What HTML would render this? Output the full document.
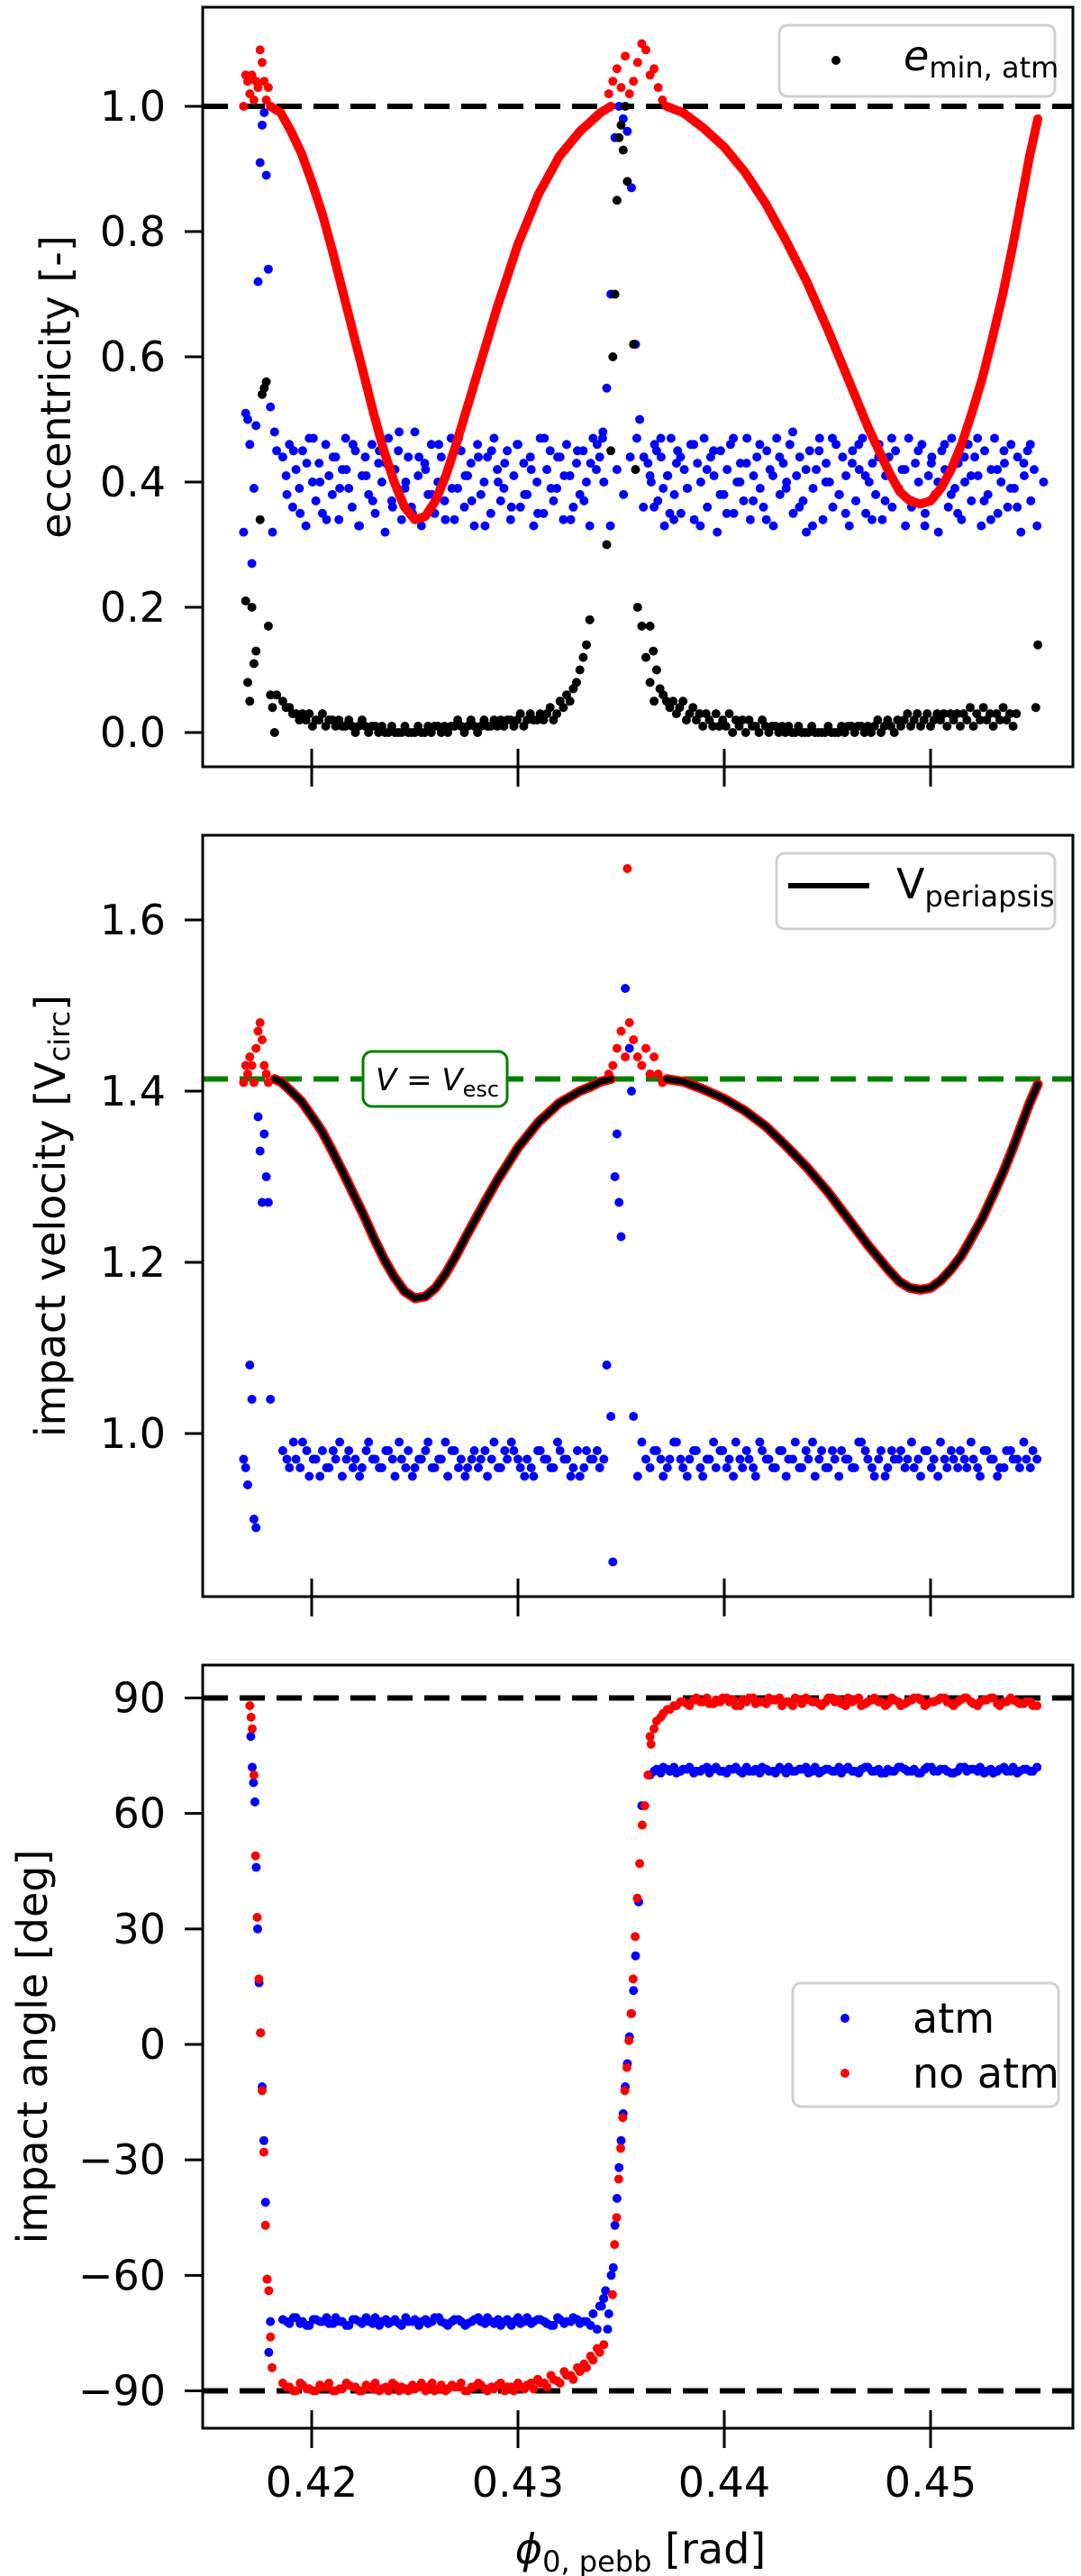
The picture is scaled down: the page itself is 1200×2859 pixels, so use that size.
<!DOCTYPE html>
<html><head><meta charset="utf-8"><style>
html,body{margin:0;padding:0;background:#fff}
svg{display:block}
text{font-family:"DejaVu Sans","Liberation Sans",sans-serif;fill:#000}
</style></head><body>
<svg id="fig" xmlns="http://www.w3.org/2000/svg" width="1200" height="2859" viewBox="0 0 1200 2859"></svg>
<script>
// ---------- data ----------
const xTicks = [0.42, 0.43, 0.44, 0.45];
const xTickLabels = ["0.42", "0.43", "0.44", "0.45"];
const eccTicks = [0.0, 0.2, 0.4, 0.6, 0.8, 1.0];
const eccTickLabels = ["0.0", "0.2", "0.4", "0.6", "0.8", "1.0"];
const velTicks = [1.0, 1.2, 1.4, 1.6];
const velTickLabels = ["1.0", "1.2", "1.4", "1.6"];
const angTicks = [-90, -60, -30, 0, 30, 60, 90];
const angTickLabels = ["\u221290", "\u221260", "\u221230", "0", "30", "60", "90"];

// sampling grids (phi values) for the dense bands
const gridL = {start: 0.4186, step: 0.00016};
const gridR = {start: 0.4363, step: 0.00016};
const gridL2 = {start: 0.4186, step: 0.00032};
const gridR2 = {start: 0.4364, step: 0.00032};
const gridL2b = {start: 0.4188, step: 0.00032};
const gridR2b = {start: 0.4366, step: 0.00032};
const gridBlkL = {start: 0.4186, step: 0.00016};
const gridBlkR = {start: 0.4364, step: 0.00016};

// panel 1: no-atm eccentricity (red curve)
const redEccX = [0.4180,0.4185,0.419,0.4195,0.420,0.4205,0.421,0.4215,0.422,0.4225,0.423,0.4235,0.424,0.4245,0.425,0.4255,0.426,0.4265,0.427,0.4275,0.428,0.4285,0.429,0.4295,0.430,0.4305,0.431,0.4315,0.432,0.4325,0.433,0.4335,0.434,0.4345];
const redEccY = [1.00,0.99,0.96,0.925,0.88,0.83,0.77,0.705,0.64,0.575,0.51,0.45,0.40,0.36,0.34,0.345,0.37,0.41,0.46,0.515,0.57,0.625,0.68,0.73,0.78,0.82,0.86,0.89,0.92,0.94,0.96,0.975,0.99,1.00];
const redEccX2 = [0.4372,0.438,0.439,0.440,0.441,0.442,0.443,0.444,0.445,0.446,0.447,0.448,0.4485,0.449,0.4495,0.450,0.4505,0.451,0.4515,0.452,0.4525,0.453,0.4535,0.454,0.4544,0.4548,0.4552];
const redEccY2 = [1.00,0.99,0.965,0.935,0.895,0.845,0.785,0.72,0.645,0.565,0.485,0.415,0.385,0.37,0.365,0.37,0.39,0.42,0.46,0.51,0.565,0.63,0.70,0.78,0.85,0.92,0.98];
const redEccSpX = [0.4167,0.4168,0.4169,0.4170,0.4171,0.4172,0.4173,0.4174,0.4175,0.4176,0.4177,0.4178,0.4179,0.4344,0.4346,0.4348,0.4350,0.4352,0.4354,0.4356,0.4358,0.4360,0.4362,0.4364,0.4366,0.4368,0.4370];
const redEccSpY = [1.00,1.05,1.04,1.02,1.05,1.01,1.04,1.03,1.09,1.07,1.04,1.01,1.03,1.02,1.04,1.06,1.03,1.08,1.02,1.04,1.07,1.10,1.09,1.05,1.06,1.03,1.01];

// panel 1: atm eccentricity (blue)
const blueEccL = [0.44,0.41,0.46,0.36,0.42,0.39,0.45,0.33,0.47,0.40,0.37,0.43,0.35,0.46,0.41,0.38,0.44,0.34,0.42,0.47,0.39,0.36,0.45,0.33,0.41,0.44,0.38,0.46,0.35,0.43,0.40,0.32,0.47,0.37,0.42,0.45,0.34,0.39,0.44,0.36,0.48,0.41,0.33,0.43,0.38,0.46,0.35,0.40,0.44,0.37,0.42,0.47,0.34,0.39,0.45,0.36,0.41,0.43,0.33,0.46,0.38,0.40,0.44,0.35,0.47,0.42,0.37,0.39,0.45,0.34,0.41,0.46,0.36,0.43,0.38,0.44,0.33,0.40,0.47,0.35,0.42,0.45,0.37,0.39,0.44,0.34,0.46,0.41,0.36,0.43,0.38,0.45,0.40,0.33,0.47,0.42,0.44,0.48];
const blueEccL2 = [0.38,0.45,0.35,0.43,0.47,0.40,0.34,0.44,0.39,0.42,0.46,0.33,0.41,0.37,0.45,0.43,0.36,0.48,0.40,0.35,0.44,0.42,0.38,0.46,0.34,0.39,0.47,0.41,0.37,0.44,0.33,0.45,0.40,0.43,0.36,0.46,0.38,0.42,0.35,0.47,0.39,0.44,0.41,0.34,0.45,0.37,0.43,0.46,0.40,0.33,0.42,0.38,0.44,0.47,0.36,0.41,0.45,0.39,0.35,0.43];
const blueEccR = [0.43,0.40,0.46,0.37,0.44,0.33,0.41,0.47,0.38,0.45,0.35,0.42,0.39,0.46,0.34,0.43,0.40,0.47,0.36,0.44,0.41,0.32,0.45,0.38,0.42,0.46,0.35,0.40,0.43,0.37,0.47,0.34,0.41,0.44,0.39,0.36,0.45,0.42,0.33,0.47,0.38,0.43,0.40,0.46,0.35,0.41,0.44,0.37,0.32,0.45,0.39,0.42,0.47,0.34,0.43,0.40,0.36,0.46,0.38,0.44,0.41,0.33,0.45,0.37,0.42,0.47,0.35,0.40,0.43,0.38,0.46,0.34,0.41,0.44,0.36,0.45,0.39,0.42,0.33,0.47,0.37,0.43,0.40,0.46,0.35,0.41,0.44,0.38,0.32,0.45,0.42,0.36,0.47,0.39,0.43,0.34,0.40,0.46,0.37,0.44,0.41,0.33,0.45,0.38,0.42,0.47,0.35,0.40,0.43,0.36,0.46,0.39,0.44,0.32,0.41,0.45,0.37,0.42];
const blueEccR2 = [0.36,0.47,0.41,0.34,0.44,0.39,0.46,0.33,0.42,0.45,0.38,0.35,0.47,0.40,0.43,0.37,0.46,0.34,0.41,0.44,0.39,0.48,0.36,0.42,0.33,0.45,0.40,0.47,0.38,0.35,0.43,0.46,0.41,0.34,0.44,0.37,0.47,0.39,0.42,0.36,0.45,0.33,0.43,0.40,0.46,0.38,0.35,0.44,0.41,0.47,0.37,0.34,0.42,0.45,0.39,0.36,0.43,0.46,0.33,0.40];
const blueEccSpX = [0.4167,0.4168,0.4169,0.4170,0.4171,0.4172,0.4173,0.4174,0.4175,0.4176,0.4177,0.4178,0.4179,0.4180,0.4181,0.4182,0.4183,0.4341,0.4343,0.4345,0.4347,0.4349,0.4351,0.4353,0.4355,0.4357,0.4359,0.4361];
const blueEccSpY = [0.32,0.51,0.50,0.46,0.27,0.39,0.49,0.72,0.91,0.97,0.99,0.89,0.74,0.52,0.32,0.48,0.45,0.47,0.55,0.70,0.95,1.00,0.98,0.96,0.87,0.62,0.50,0.44];

// panel 1: e_min,atm (black)
const blkEccL = [0.05,0.04,0.04,0.03,0.03,0.02,0.03,0.02,0.03,0.01,0.02,0.02,0.03,0.01,0.02,0.02,0.01,0.02,0.01,0.01,0.02,0.01,0.00,0.01,0.02,0.01,0.00,0.01,0.01,0.00,0.01,0.00,0.00,0.01,0.00,0.00,0.00,0.01,0.00,0.00,0.00,0.01,0.00,0.00,0.01,0.00,0.01,0.01,0.00,0.01,0.00,0.01,0.01,0.02,0.01,0.00,0.01,0.02,0.01,0.00,0.01,0.02,0.01,0.01,0.02,0.01,0.02,0.01,0.02,0.02,0.01,0.02,0.03,0.01,0.02,0.03,0.02,0.02,0.03,0.02,0.03,0.04,0.02,0.03,0.05,0.04,0.06,0.05,0.07,0.08,0.10,0.12,0.14,0.18];
const blkEccR = [0.17,0.13,0.10,0.07,0.06,0.05,0.04,0.05,0.03,0.04,0.05,0.02,0.03,0.04,0.02,0.03,0.01,0.03,0.02,0.01,0.03,0.01,0.02,0.01,0.03,0.00,0.02,0.01,0.02,0.00,0.02,0.01,0.01,0.00,0.02,0.01,0.00,0.01,0.01,0.00,0.01,0.00,0.01,0.00,0.00,0.01,0.00,0.00,0.00,0.01,0.00,0.00,0.00,0.00,0.01,0.00,0.00,0.00,0.01,0.00,0.01,0.01,0.00,0.01,0.01,0.00,0.01,0.00,0.01,0.02,0.00,0.01,0.02,0.01,0.00,0.02,0.01,0.02,0.03,0.01,0.02,0.03,0.01,0.02,0.03,0.01,0.02,0.03,0.02,0.03,0.01,0.03,0.02,0.03,0.01,0.03,0.02,0.04,0.01,0.03,0.02,0.04,0.02,0.03,0.01,0.03,0.02,0.04,0.02,0.03,0.01,0.03];
const blkEccSpX = [0.4168,0.4169,0.4170,0.4171,0.4172,0.4173,0.4175,0.4176,0.4177,0.4178,0.4179,0.4180,0.4181,0.4182,0.4183,0.4343,0.4345,0.4346,0.4347,0.4348,0.4349,0.4350,0.4351,0.4352,0.4353,0.4356,0.4357,0.4358,0.4360,0.4362,0.4364,0.4366,0.4551,0.4552];
const blkEccSpY = [0.21,0.08,0.05,0.20,0.11,0.13,0.34,0.54,0.55,0.56,0.17,0.06,0.04,0.00,0.06,0.30,0.45,0.60,0.70,0.85,0.95,0.97,0.93,1.00,0.88,0.62,0.42,0.20,0.17,0.12,0.08,0.05,0.04,0.14];

// panel 2: impact velocity
const velLineX = [0.4182,0.4185,0.419,0.4195,0.420,0.4205,0.421,0.4215,0.422,0.4225,0.423,0.4235,0.424,0.4245,0.425,0.4255,0.426,0.4265,0.427,0.4275,0.428,0.4285,0.429,0.4295,0.430,0.4305,0.431,0.4315,0.432,0.4325,0.433,0.4335,0.434,0.4345];
const velLineY = [1.414,1.411,1.400,1.388,1.371,1.353,1.330,1.306,1.281,1.256,1.229,1.204,1.183,1.166,1.158,1.160,1.170,1.187,1.208,1.231,1.253,1.275,1.296,1.315,1.334,1.349,1.364,1.375,1.386,1.393,1.400,1.405,1.411,1.414];
const velLineX2 = [0.4372,0.438,0.439,0.440,0.441,0.442,0.443,0.444,0.445,0.446,0.447,0.448,0.4485,0.449,0.4495,0.450,0.4505,0.451,0.4515,0.452,0.4525,0.453,0.4535,0.454,0.4544,0.4548,0.4552];
const velLineY2 = [1.414,1.411,1.402,1.391,1.377,1.359,1.336,1.311,1.283,1.251,1.219,1.190,1.177,1.170,1.168,1.170,1.179,1.192,1.208,1.229,1.251,1.277,1.304,1.334,1.360,1.386,1.408];
const redVelSpX = [0.4167,0.4168,0.4169,0.4170,0.4171,0.4172,0.4173,0.4174,0.4175,0.4176,0.4177,0.4178,0.4179,0.4344,0.4346,0.4348,0.4350,0.4352,0.4353,0.4354,0.4356,0.4358,0.4360,0.4362,0.4364,0.4366,0.4368,0.4370];
const redVelSpY = [1.41,1.43,1.42,1.44,1.43,1.41,1.45,1.47,1.48,1.46,1.43,1.42,1.41,1.42,1.43,1.45,1.47,1.44,1.66,1.48,1.46,1.44,1.43,1.45,1.42,1.44,1.42,1.41];
const blueVelL = [0.98,0.96,0.97,0.99,0.95,0.97,0.98,0.96,0.97,0.95,0.98,0.97,0.96,0.99,0.97,0.96,0.98,0.95,0.97,0.98,0.96,0.97,0.99,0.96,0.97,0.95,0.98,0.97,0.96,0.98,0.97,0.95,0.99,0.96,0.97,0.98,0.96,0.97,0.95,0.98,0.97,0.96,0.98,0.97,0.96,0.95,0.98,0.97,0.96];
const blueVelL2 = [0.97,0.99,0.96,0.98,0.97,0.95,0.96,0.98,0.99,0.97,0.96,0.95,0.98,0.97,0.96,0.98,0.97,0.99,0.96,0.95,0.97,0.98,0.96,0.97,0.99,0.98,0.96,0.95,0.97,0.96,0.98,0.97,0.96,0.98,0.99,0.97,0.95,0.96,0.98,0.97,0.96,0.99,0.97,0.95,0.98,0.96,0.97,0.98,0.97];
const blueVelR = [0.96,0.98,0.95,0.97,0.99,0.96,0.97,0.98,0.95,0.97,0.96,0.98,0.97,0.99,0.96,0.97,0.95,0.98,0.97,0.96,0.98,0.97,0.99,0.96,0.97,0.95,0.98,0.96,0.97,0.98,0.97,0.96,0.99,0.97,0.95,0.98,0.96,0.97,0.98,0.97,0.96,0.95,0.98,0.97,0.99,0.96,0.97,0.98,0.96,0.97,0.95,0.98,0.97,0.96,0.98,0.97,0.96,0.97,0.98];
const blueVelR2 = [0.98,0.97,0.96,0.99,0.97,0.95,0.98,0.96,0.97,0.99,0.98,0.96,0.95,0.97,0.98,0.96,0.99,0.97,0.96,0.98,0.95,0.97,0.96,0.98,0.99,0.97,0.96,0.98,0.95,0.97,0.96,0.99,0.98,0.96,0.97,0.95,0.98,0.97,0.96,0.99,0.97,0.98,0.96,0.95,0.97,0.98,0.96,0.97,0.99,0.96,0.98,0.97,0.95,0.96,0.98,0.97,0.99,0.96,0.97];
const blueVelSpX = [0.4167,0.4168,0.4169,0.4170,0.4171,0.4172,0.4173,0.4174,0.4175,0.4176,0.4177,0.4178,0.4179,0.4180,0.4343,0.4345,0.4346,0.4347,0.4348,0.4349,0.4350,0.4352,0.4354,0.4355,0.4356,0.4358,0.4360,0.4362];
const blueVelSpY = [0.97,0.96,0.94,1.08,1.04,0.90,0.89,1.37,1.33,1.27,1.35,1.30,1.27,1.04,1.08,1.02,0.85,1.30,1.35,1.27,1.23,1.52,1.45,1.40,1.02,0.95,0.99,0.97];

// panel 3: impact angle
const blueAngL = [-71.5,-72.5,-71,-72,-73,-71.5,-72,-72.5,-71,-72,-73,-71.5,-72.5,-72,-71,-72,-72.5,-71.5,-73,-72,-71.5,-72,-72.5,-71,-72,-73,-71.5,-72,-72.5,-71.5,-72,-71,-72.5,-73,-71.5,-72,-72.5,-71,-72,-71.5,-72.5,-73,-71.5,-72,-71,-72.5,-72,-70,-68];
const blueAngL2 = [-72,-71,-72.5,-73,-71.5,-72,-71,-72.5,-72,-73,-71.5,-72,-71,-72.5,-73,-71.5,-72,-72.5,-71,-72,-73,-71.5,-72,-71,-72.5,-72,-71.5,-73,-72,-71,-72.5,-72,-71.5,-72,-73,-71,-72,-72.5,-71.5,-72,-73,-71,-72.5,-72,-71.5,-72,-73,-74,-66];
const blueAngR = [70,71.5,72,71,70.5,71.5,72,71,71.5,70.5,72,71,71.5,72,70.5,71,71.5,72,71,70.5,71.5,72,71,71.5,70.5,72,71,71.5,71,70.5,72,71,71.5,72,71,70.5,71.5,71,72,71,71.5,70.5,72,71,71.5,71,70.5,72,71,71.5,72,71,70.5,71.5,71,72,71,71.5,71];
const blueAngR2 = [71,70.5,71.5,72,71,71.5,70.5,71,72,71.5,71,70.5,71.5,71,72,71,70.5,71.5,71,72,70.5,71,71.5,72,71,70.5,71.5,71,72,71.5,71,70.5,72,71,71.5,70.5,71,72,71.5,71,70.5,71.5,72,71,71.5,70.5,71,72,71.5,71,70.5,71.5,71,72,71,70.5,71.5,71,72];
const redAngL = [-88,-89,-90,-88.5,-89.5,-90,-89,-88,-90,-89.5,-88.5,-89,-90,-89,-88,-89.5,-90,-88.5,-89,-90,-89.5,-88,-89,-90,-88.5,-89.5,-89,-88,-90,-89,-88.5,-90,-89.5,-88,-89,-90,-89,-88.5,-89.5,-88,-89,-87,-88,-86,-87,-85,-84,-82,-80];
const redAngL2 = [-89,-90,-88,-89.5,-90,-88.5,-89,-90,-89.5,-88,-89,-90,-88.5,-89.5,-90,-89,-88,-90,-89.5,-88.5,-89,-90,-88,-89.5,-90,-88.5,-89,-90,-89,-88,-89.5,-89,-88.5,-90,-89,-88,-89.5,-88,-87,-88,-86,-87.5,-85,-86,-84,-83,-81,-79,-78];
const redAngR = [80,84,86,87,88,89,88,90,89,88.5,89.5,90,89,88,89.5,90,88.5,89,90,89.5,88,89,90,88.5,89.5,89,88,90,89,88.5,90,89.5,88,89,90,89,88.5,89.5,88,89,90,89.5,88.5,89,90,89,88,89.5,90,88.5,89,89.5,90,88,89,89.5,88.5,89,88];
const redAngR2 = [82,85,87,88,89,88.5,89.5,89,90,88.5,89,90,89.5,88,89,90,89,88.5,89.5,90,89,88,89.5,90,89,88.5,89,90,89.5,88,89,90,88.5,89.5,89,88,90,89,88.5,89.5,90,88,89,89.5,90,88.5,89,90,89,88,89.5,90,88.5,89,90,89,88.5,89,88];
const blueAngSpX = [0.41705,0.41712,0.41718,0.41725,0.41731,0.41738,0.41745,0.41752,0.41760,0.41768,0.41776,0.41784,0.41792,0.41800,0.43405,0.43415,0.43425,0.43435,0.43440,0.43452,0.43462,0.43470,0.43480,0.43490,0.43500,0.43510,0.43520,0.43530,0.43540,0.43550,0.43560,0.43570,0.43585,0.43600];
const blueAngSpY = [80,72,68,63,46,30,16,3,-11,-25,-41,-61,-80,-72,-68,-66,-64,-74,-70,-60,-58,-47,-40,-32,-25,-18,-11,-5,2,8,14,23,37,62];
const redAngSpX = [0.41700,0.41706,0.41712,0.41720,0.41728,0.41736,0.41744,0.41752,0.41760,0.41768,0.41776,0.41784,0.41792,0.41800,0.41808,0.43458,0.43468,0.43478,0.43488,0.43498,0.43508,0.43518,0.43528,0.43538,0.43548,0.43558,0.43568,0.43578,0.43590,0.43602,0.43615,0.43630,0.43645];
const redAngSpY = [88,85,82,70,49,33,17,3,-12,-28,-47,-61,-64,-76,-84,-65,-52,-45,-35,-27,-19,-12,-6,1,8,17,28,38,47,57,62,70,78];

// ---------- layout ----------
const X0 = 346, XK = 22900;
const AX_L = 225, AX_R = 1191;
const P1 = {top: 8, bot: 851, y: v => 813 - v * 695};
const P2 = {top: 927, bot: 1772, y: v => 1211 - (v - 1.4) * 950};
const P3 = {top: 1848, bot: 2695, y: v => 2269 - v * 4.272};
const xs = v => X0 + (v - 0.42) * XK;

const svg = document.getElementById('fig');
const NS = 'http://www.w3.org/2000/svg';
function mk(tag, attrs, parent) {
  const e = document.createElementNS(NS, tag);
  for (const k in attrs) e.setAttribute(k, attrs[k]);
  (parent || svg).appendChild(e);
  return e;
}
function gridX(g, n) { const a = []; for (let i = 0; i < n; i++) a.push(g.start + i * g.step); return a; }

function dots(P, X, Y, color, name, r) {
  const g = mk('g', {fill: color});
  
  
  for (let i = 0; i < X.length; i++) {
    const c = mk('circle', {cx: xs(X[i]).toFixed(1), cy: P.y(Y[i]).toFixed(1), r: r || 5}, g);
    
    
  }
}
function line(P, X, Y, color, w, name) {
  let d = '';
  for (let i = 0; i < X.length; i++) d += (i ? 'L' : 'M') + xs(X[i]).toFixed(1) + ' ' + P.y(Y[i]).toFixed(1);
  const p = mk('path', {d: d, fill: 'none', stroke: color, 'stroke-width': w, 'stroke-linejoin': 'round', 'stroke-linecap': 'round'});
  
  
}
function hdash(P, v, color, name) {
  const l = mk('line', {x1: AX_L, x2: AX_R, y1: P.y(v), y2: P.y(v), stroke: color, 'stroke-width': 6, 'stroke-dasharray': '28 13'});
  
  
}
function axes(P, ticks, labels, name, ylabel, ylx, showX) {
  const g = mk('g', {});
  
  
  const fr = mk('rect', {x: AX_L, y: P.top, width: AX_R - AX_L, height: P.bot - P.top, fill: 'none', stroke: '#000', 'stroke-width': 3}, g);
  
  
  ticks.forEach((t, i) => {
    const y = P.y(t);
    const tk = mk('line', {x1: AX_L - 20, x2: AX_L, y1: y, y2: y, stroke: '#000', 'stroke-width': 3}, g);
    
    
    const tx = mk('text', {x: 184, y: y + 16, 'text-anchor': 'end', 'font-size': 46}, g);
    tx.textContent = labels[i];
    
    
  });
  xTicks.forEach((t, i) => {
    const x = xs(t);
    const tk = mk('line', {x1: x, x2: x, y1: P.bot - 20, y2: P.bot + 22, stroke: '#000', 'stroke-width': 3}, g);
    
    
    if (showX) {
      const tx = mk('text', {x: x, y: P.bot + 76, 'text-anchor': 'middle', 'font-size': 46}, g);
      tx.textContent = xTickLabels[i];
      
      
    }
  });
  const cy = (P.top + P.bot) / 2;
  const yl = mk('text', {x: ylx, y: cy, 'text-anchor': 'middle', 'font-size': 46, transform: 'rotate(-90 ' + ylx + ' ' + cy + ')', 'dominant-baseline': 'central'}, g);
  yl.innerHTML = ylabel;
  
  
}

// ---------- panel 1 ----------
hdash(P1, 1.0, '#000', 'ecc-unity-line');
dots(P1, gridX(gridL, blueEccL.length), blueEccL, '#0000ff', 'atm-ecc-band-left');
dots(P1, gridX(gridL2b, blueEccL2.length), blueEccL2, '#0000ff', 'atm-ecc-band-left-2');
dots(P1, gridX(gridR, blueEccR.length), blueEccR, '#0000ff', 'atm-ecc-band-right');
dots(P1, gridX(gridR2b, blueEccR2.length), blueEccR2, '#0000ff', 'atm-ecc-band-right-2');
dots(P1, blueEccSpX, blueEccSpY, '#0000ff', 'atm-ecc-spikes');
line(P1, redEccX, redEccY, '#ff0000', 10, 'noatm-ecc-curve-left');
line(P1, redEccX2, redEccY2, '#ff0000', 10, 'noatm-ecc-curve-right');
dots(P1, redEccSpX, redEccSpY, '#ff0000', 'noatm-ecc-scatter');
dots(P1, gridX(gridBlkL, blkEccL.length), blkEccL, '#000', 'emin-atm-left');
dots(P1, gridX(gridBlkR, blkEccR.length), blkEccR, '#000', 'emin-atm-right');
dots(P1, blkEccSpX, blkEccSpY, '#000', 'emin-atm-spikes');
axes(P1, eccTicks, eccTickLabels, 'ecc', 'eccentricity [-]', 62, false);

// ---------- panel 2 ----------
hdash(P2, 1.4142, '#008000', 'escape-velocity-line');
dots(P2, gridX(gridL2, blueVelL.length), blueVelL, '#0000ff', 'atm-vel-band-left');
dots(P2, gridX(gridL2b, blueVelL2.length), blueVelL2, '#0000ff', 'atm-vel-band-left-2');
dots(P2, gridX(gridR2, blueVelR.length), blueVelR, '#0000ff', 'atm-vel-band-right');
dots(P2, gridX(gridR2b, blueVelR2.length), blueVelR2, '#0000ff', 'atm-vel-band-right-2');
dots(P2, blueVelSpX, blueVelSpY, '#0000ff', 'atm-vel-spikes');
dots(P2, redVelSpX, redVelSpY, '#ff0000', 'noatm-vel-scatter');
line(P2, velLineX, velLineY, '#ff0000', 11, 'noatm-vel-curve-left');
line(P2, velLineX2, velLineY2, '#ff0000', 11, 'noatm-vel-curve-right');
line(P2, velLineX, velLineY, '#000', 7, 'v-periapsis-left');
line(P2, velLineX2, velLineY2, '#000', 7, 'v-periapsis-right');
axes(P2, velTicks, velTickLabels, 'vel', 'impact velocity [V<tspan font-size="32" dy="10">circ</tspan><tspan dy="-10">]</tspan>', 56, false);

// ---------- panel 3 ----------
hdash(P3, 90, '#000', 'plus-90-line');
hdash(P3, -90, '#000', 'minus-90-line');
dots(P3, gridX(gridL2, redAngL.length), redAngL, '#ff0000', 'noatm-angle-left');
dots(P3, gridX(gridL2b, redAngL2.length), redAngL2, '#ff0000', 'noatm-angle-left-2');
dots(P3, gridX(gridR2, redAngR.length), redAngR, '#ff0000', 'noatm-angle-right');
dots(P3, gridX(gridR2b, redAngR2.length), redAngR2, '#ff0000', 'noatm-angle-right-2');
dots(P3, gridX(gridL2, blueAngL.length), blueAngL, '#0000ff', 'atm-angle-left');
dots(P3, gridX(gridL2b, blueAngL2.length), blueAngL2, '#0000ff', 'atm-angle-left-2');
dots(P3, gridX(gridR2, blueAngR.length), blueAngR, '#0000ff', 'atm-angle-right');
dots(P3, gridX(gridR2b, blueAngR2.length), blueAngR2, '#0000ff', 'atm-angle-right-2');
dots(P3, blueAngSpX, blueAngSpY, '#0000ff', 'atm-angle-transition');
dots(P3, redAngSpX, redAngSpY, '#ff0000', 'noatm-angle-transition');
axes(P3, angTicks, angTickLabels, 'angle', 'impact angle [deg]', 36, true);
</script>
<svg style="position:absolute;left:0;top:0" width="1200" height="2859">
  <g>
    <rect x="865" y="28" width="306" height="79" rx="9" fill="#fff" fill-opacity="0.8" stroke="#d0d0d0" stroke-width="3"/>
    <circle cx="928" cy="67" r="5" fill="#000"/>
    <text x="1003" y="78" font-size="46" font-family="DejaVu Sans, sans-serif"><tspan font-style="italic">e</tspan><tspan font-size="32" dy="8">min, atm</tspan></text>
  </g>
  <g>
    <rect x="862" y="947" width="309" height="84" rx="9" fill="#fff" fill-opacity="0.8" stroke="#d0d0d0" stroke-width="3"/>
    <line x1="875" y1="983" x2="965" y2="983" stroke="#000" stroke-width="6"/>
    <text x="995" y="997" font-size="46" font-family="DejaVu Sans, sans-serif">V<tspan font-size="32" dy="9">periapsis</tspan></text>
  </g>
  <g>
    <rect x="403" y="1167" width="160" height="61" rx="10" fill="#fff" stroke="#008000" stroke-width="3"/>
    <text x="417" y="1210" font-size="34" font-family="DejaVu Sans, sans-serif"><tspan font-style="italic">V</tspan> = <tspan font-style="italic">V</tspan><tspan font-size="24" dy="7">esc</tspan></text>
  </g>
  <g>
    <rect x="880" y="2201" width="295" height="137" rx="9" fill="#fff" fill-opacity="0.8" stroke="#d0d0d0" stroke-width="3"/>
    <circle cx="938" cy="2240" r="5" fill="#0000ff"/>
    <text x="1013" y="2256" font-size="46" font-family="DejaVu Sans, sans-serif">atm</text>
    <circle cx="938" cy="2301" r="5" fill="#ff0000"/>
    <text x="1013" y="2317" font-size="46" font-family="DejaVu Sans, sans-serif">no atm</text>
  </g>
  <text x="711" y="2845" text-anchor="middle" font-size="46" font-family="DejaVu Sans, sans-serif"><tspan font-style="italic">ϕ</tspan><tspan font-size="32" dy="9">0, pebb</tspan><tspan dy="-9"> [rad]</tspan></text>
</svg>
</body></html>
